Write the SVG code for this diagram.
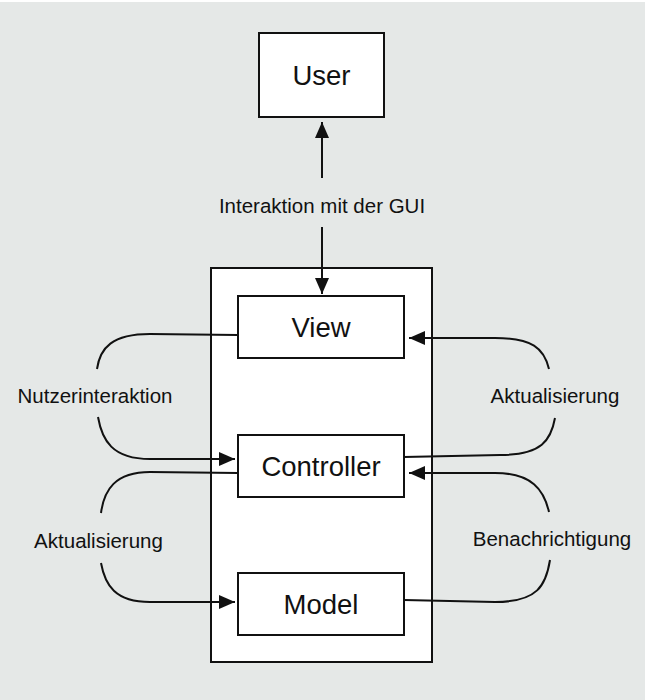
<svg xmlns="http://www.w3.org/2000/svg" width="648" height="700" viewBox="0 0 648 700">
<style>
.box{fill:#fff;stroke:#111;stroke-width:2}
.line{fill:none;stroke:#111;stroke-width:2}
.t{font-family:"Liberation Sans",Arial,sans-serif;fill:#111}
.big{font-size:27.5px}
.lab{font-size:20.5px}
</style>
<defs>
<marker id="ah" viewBox="0 0 16 14" refX="16" refY="7" markerWidth="16" markerHeight="14" markerUnits="userSpaceOnUse" orient="auto">
<path d="M0,0 L16,7 L0,14 Z" fill="#111"/>
</marker>
</defs>
<rect x="0" y="2" width="645" height="698" fill="#e5e8e7"/>
<g id="container"><rect class="box" x="211" y="268" width="221" height="394"/></g>
<g id="user"><rect class="box" x="259" y="33" width="125" height="84"/><text class="t big" x="321.5" y="85" text-anchor="middle">User</text></g>
<g id="view"><rect class="box" x="238" y="296" width="166" height="62"/><text class="t big" x="321" y="337" text-anchor="middle">View</text></g>
<g id="controller"><rect class="box" x="238" y="435" width="166" height="62"/><text class="t big" x="321" y="476" text-anchor="middle">Controller</text></g>
<g id="model"><rect class="box" x="238" y="573" width="166" height="62"/><text class="t big" x="321" y="614" text-anchor="middle">Model</text></g>
<g id="connectors">
<path class="line" d="M322,178 L322,122" marker-end="url(#ah)"/>
<path class="line" d="M322,227 L322,294" marker-end="url(#ah)"/>
<path class="line" d="M238,335 L150,334 C112,334 100,348 97,369"/>
<path class="line" d="M98,417 C102,440 112,459 150,459 L235,459" marker-end="url(#ah)"/>
<path class="line" d="M238,473 L150,472 C115,472 104,490 101,513"/>
<path class="line" d="M101,563 C105,585 115,602 150,602 L235,602" marker-end="url(#ah)"/>
<path class="line" d="M549,369 C544,348 532,338 495,338 L409,338" marker-end="url(#ah)"/>
<path class="line" d="M555,418 C551,440 542,455 500,455 L404,457"/>
<path class="line" d="M549,512 C544,490 532,473 495,473 L409,473" marker-end="url(#ah)"/>
<path class="line" d="M550,560 C546,585 538,602 495,602 L404,600"/>
</g>
<g id="labels">
<text class="t lab" x="322" y="213" text-anchor="middle">Interaktion mit der GUI</text>
<text class="t lab" x="95" y="403" text-anchor="middle">Nutzerinteraktion</text>
<text class="t lab" x="98.5" y="548" text-anchor="middle">Aktualisierung</text>
<text class="t lab" x="555" y="403" text-anchor="middle">Aktualisierung</text>
<text class="t lab" x="552" y="546" text-anchor="middle">Benachrichtigung</text>
</g>
</svg>
